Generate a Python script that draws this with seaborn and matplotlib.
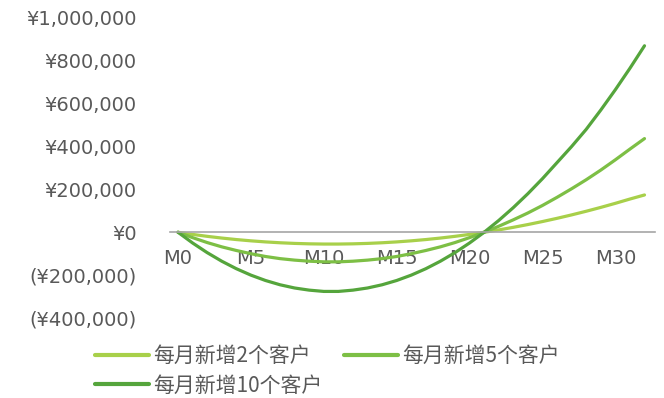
import pandas as pd
import seaborn as sns
import matplotlib.pyplot as plt
from matplotlib.ticker import FuncFormatter

months = list(range(0, 33))
labels = ['每月新增2个客户', '每月新增5个客户', '每月新增10个客户']
# cumulative profit (in thousands of yen)
v2 = [0, -10, -19, -27, -34, -40, -45, -49, -52, -54, -55, -55, -54, -52, -49, -45, -40,
      -34, -27, -19, -10, 0, 11, 23, 36, 50, 65, 81, 98, 116, 135, 155, 174]
v5 = [0, -25, -48, -68, -85, -100, -113, -123, -130, -135, -138, -138, -135, -130, -123, -113, -100,
      -85, -68, -48, -25, 0, 28, 58, 90, 125, 163, 203, 245, 290, 338, 388, 437]
v10 = [0, -50, -95, -135, -170, -200, -225, -245, -260, -270, -276, -276, -270, -260, -245, -225, -200,
       -170, -135, -95, -50, 0, 55, 115, 180, 250, 325, 400, 480, 570, 665, 765, 870]
colors = ['#a8d04a', '#7dbf45', '#55a53c']

df = pd.concat([
    pd.DataFrame({'month': months, 'value': [v * 1000 for v in vals], 'series': name})
    for name, vals in zip(labels, [v2, v5, v10])
])

sns.set_theme(style='white')
plt.rcParams['font.family'] = ['DejaVu Sans', 'Noto Sans CJK SC']

fig = plt.figure(figsize=(6.64, 3.98), dpi=100)
ax = fig.add_axes([0.256, 0.201, 0.73, 0.754])
sns.lineplot(data=df, x='month', y='value', hue='series', palette=colors, linewidth=2.3, ax=ax, legend=False)

ax.set_xlim(-0.55, 32.7)
ax.set_ylim(-400000, 1000000)
ax.set_yticks(range(-400000, 1000001, 200000))
ax.yaxis.set_major_formatter(FuncFormatter(
    lambda v, p: '¥0' if v == 0 else (f'¥{v:,.0f}' if v > 0 else f'(¥{-v:,.0f})')))
ax.set_xticks(range(0, 31, 5))
ax.set_xticklabels([f'M{m}' for m in range(0, 31, 5)])
ax.set_xlabel('')
ax.set_ylabel('')

for s in ['top', 'right', 'left']:
    ax.spines[s].set_visible(False)
ax.spines['bottom'].set_position(('data', 0))
ax.spines['bottom'].set_color('#a6a6a6')
ax.spines['bottom'].set_linewidth(1.2)
ax.tick_params(axis='y', length=0, pad=24, labelsize=14, labelcolor='#595959')
ax.tick_params(axis='x', length=0, pad=12, labelsize=14, labelcolor='#595959')
for t in ax.get_xticklabels():
    t.set_zorder(0)

handles = [plt.Line2D([], [], color=c, linewidth=3) for c in colors]
order = [0, 2, 1]
fig.legend([handles[i] for i in order], [labels[i] for i in order], ncol=2,
           loc='upper left', bbox_to_anchor=(0.115, 0.18), frameon=False,
           handlelength=2.6, handletextpad=0.2, columnspacing=1.0, labelspacing=0.35,
           prop={'family': ['Noto Sans CJK SC'], 'size': 15}, labelcolor='#595959')

fig.savefig('out.png', dpi=100)
